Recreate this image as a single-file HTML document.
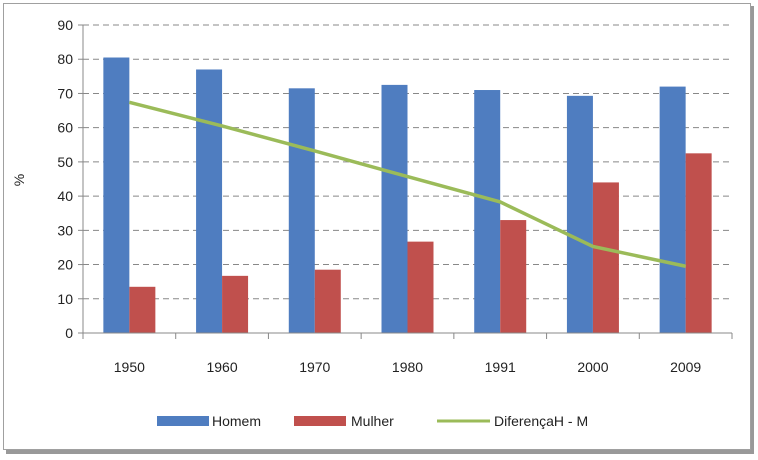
<!DOCTYPE html>
<html><head><meta charset="utf-8"><style>
body{margin:0;background:#fff;font-family:"Liberation Sans",sans-serif;}
svg text{font-family:"Liberation Sans",sans-serif;fill:#222;}
</style></head><body>
<svg width="758" height="455">
<rect x="6" y="6" width="748" height="448" fill="#999"/>
<rect x="3.5" y="3.5" width="747" height="446" fill="#fff" stroke="#a0a0a0"/>
<g id="grid"></g><g id="bars"></g><g id="axes"></g><g id="line"></g>
<text x="24" y="180" font-size="14" text-anchor="middle" transform="rotate(-90 24 180)">%</text>
<g font-size="14">
<rect x="157" y="416" width="52" height="10" fill="#4f7dc0"/>
<text x="212" y="426">Homem</text>
<rect x="294" y="416" width="52" height="10" fill="#c0504d"/>
<text x="351" y="426">Mulher</text>
<line x1="437" y1="421" x2="490" y2="421" stroke="#9bbb59" stroke-width="3"/>
<text x="494" y="426">DiferençaH - M</text>
</g>
</svg>
<script>
const categories=["1950","1960","1970","1980","1991","2000","2009"];
const homem=[80.5,77,71.5,72.5,71,69.3,72];
const mulher=[13.5,16.7,18.5,26.7,33,44,52.5];
const diferenca=[67.4,60.5,53.2,45.7,38.3,25.3,19.5];
const yTicks=[0,10,20,30,40,50,60,70,80,90];
const NS="http://www.w3.org/2000/svg";
const x0=83,x1=732,y0=333,yTop=25;
const cw=(x1-x0)/categories.length;
const y=v=>y0-(v/90)*(y0-yTop);
const cx=i=>x0+cw*(i+0.5);
function mk(t,a,p){const e=document.createElementNS(NS,t);for(const k in a)e.setAttribute(k,a[k]);p.appendChild(e);return e;}
const g=document.getElementById('grid'),b=document.getElementById('bars'),ax=document.getElementById('axes'),ln=document.getElementById('line');
yTicks.forEach(v=>{
 if(v>0){const l=mk('line',{x1:x0,x2:x1,y1:y(v),y2:y(v),stroke:'#888','stroke-dasharray':'6 4'},g);
 
 }
 const tk=mk('line',{x1:x0-5,x2:x0,y1:y(v),y2:y(v),stroke:'#888'},ax);
 
 
 const t=mk('text',{x:x0-10,y:y(v)+5,'font-size':14,'text-anchor':'end'},ax);t.textContent=v;
 
 
});
const bw=26;
categories.forEach((c,i)=>{
 const r1=mk('rect',{x:cx(i)-bw,y:y(homem[i]),width:bw,height:y0-y(homem[i]),fill:'#4f7dc0'},b);
 
 
 const r2=mk('rect',{x:cx(i),y:y(mulher[i]),width:bw,height:y0-y(mulher[i]),fill:'#c0504d'},b);
 
 
 const t=mk('text',{x:cx(i),y:372,'font-size':14,'text-anchor':'middle'},ax);t.textContent=c;
 
 
});
for(let i=0;i<=categories.length;i++){const tk=mk('line',{x1:x0+cw*i,x2:x0+cw*i,y1:y0,y2:y0+6,stroke:'#888'},ax);
 
 }
const ya=mk('line',{x1:x0,x2:x0,y1:yTop,y2:y0,stroke:'#888'},ax);


const xa=mk('line',{x1:x0,x2:x1,y1:y0,y2:y0,stroke:'#888'},ax);


const pl=mk('polyline',{points:diferenca.map((v,i)=>cx(i)+','+y(v)).join(' '),fill:'none',stroke:'#9bbb59','stroke-width':3.5},ln);


</script>
</body></html>
